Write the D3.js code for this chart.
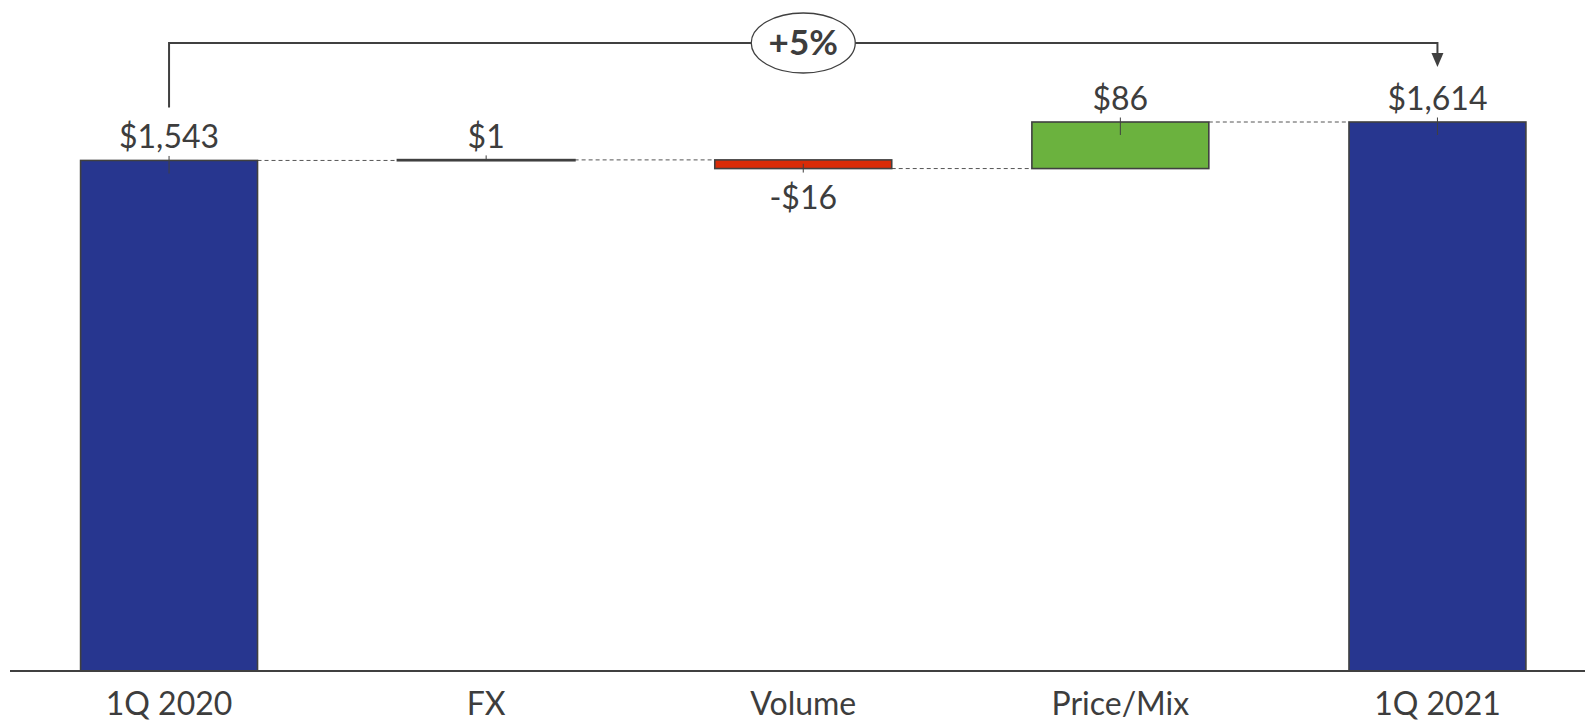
<!DOCTYPE html>
<html>
<head>
<meta charset="utf-8">
<script src="https://cdn.jsdelivr.net/npm/d3@7"></script>
<style>
  html, body { margin: 0; padding: 0; background: #fff; }
  svg { display: block; font-family: "Lato", "Open Sans", sans-serif; }
</style>
</head>
<body>
<div id="grafico"></div>
<script>
// Dati del waterfall
const categories = ["1Q 2020", "FX", "Volume", "Price/Mix", "1Q 2021"];
const values = [1543, 1, -16, 86, 1614];
const kinds = ["total", "delta", "delta", "delta", "total"];
const valueLabels = ["$1,543", "$1", "-$16", "$86", "$1,614"];
const changeLabel = "+5%";

const width = 1585;
const height = 726;
const textColor = "#3d3d3d";
const strokeColor = "#404040";
const colors = { total: "#27368f", up: "#6bb23e", down: "#d92b07" };

const svg = d3.select("#grafico")
    .append("svg")
    .attr("width", width)
    .attr("height", height);

// Calcolo inizio/fine di ogni barra
let running = 0;
const bars = categories.map((c, i) => {
    let start, end;
    if (kinds[i] === "total") {
        start = null;
        end = values[i];
    } else {
        start = running;
        end = running + values[i];
    }
    running = end;
    return { cat: c, value: values[i], kind: kinds[i], start, end, label: valueLabels[i] };
});

const x = d3.scaleBand()
    .domain(categories)
    .range([10.5, 1596])
    .paddingInner(0.442)
    .paddingOuter(0.221);

const y = d3.scaleLinear()
    .domain([600, d3.max(bars, d => d.end)])
    .range([671, 122]);

const baseY = y.range()[0];

// Linee tratteggiate di collegamento
bars.slice(0, -1).forEach((d, i) => {
    const next = bars[i + 1];
    svg.append("line")
        .attr("x1", x(d.cat) + x.bandwidth())
        .attr("x2", x(next.cat))
        .attr("y1", y(d.end))
        .attr("y2", y(d.end))
        .attr("stroke", "#555")
        .attr("stroke-width", 1)
        .attr("stroke-dasharray", "4,3");
});

// Barre
bars.forEach(d => {
    let top, bottom, fill;
    if (d.kind === "total") {
        top = y(d.end);
        bottom = baseY;
        fill = colors.total;
    } else {
        top = y(Math.max(d.start, d.end));
        bottom = y(Math.min(d.start, d.end));
        fill = d.value >= 0 ? colors.up : colors.down;
    }
    d.top = top;
    d.bottom = bottom;

    svg.append("rect")
        .attr("x", x(d.cat))
        .attr("y", top)
        .attr("width", x.bandwidth())
        .attr("height", Math.max(0.5, bottom - top))
        .attr("fill", fill)
        .attr("stroke", strokeColor)
        .attr("stroke-width", d.value === 1 ? 2.2 : 1.6);
});

// Asse orizzontale
svg.append("line")
    .attr("x1", 10)
    .attr("x2", width)
    .attr("y1", baseY)
    .attr("y2", baseY)
    .attr("stroke", strokeColor)
    .attr("stroke-width", 2);

// Etichette categorie
svg.selectAll(".catLabel")
    .data(categories)
    .enter()
    .append("text")
    .attr("class", "catLabel")
    .attr("x", d => x(d) + x.bandwidth() / 2)
    .attr("y", baseY + 44)
    .attr("text-anchor", "middle")
    .style("font-size", "32px")
    .style("fill", textColor)
    .text(d => d);

// Etichette valori con piccolo segno verticale
bars.forEach(d => {
    const cx = x(d.cat) + x.bandwidth() / 2;
    const neg = d.kind === "delta" && d.value < 0;
    const h = d.bottom - d.top;
    const inside = Math.min(13, h * 0.55);

    if (neg) {
        svg.append("line")
            .attr("x1", cx).attr("x2", cx)
            .attr("y1", d.bottom - inside)
            .attr("y2", d.bottom + 4)
            .attr("stroke", strokeColor)
            .attr("stroke-width", 1);
        svg.append("text")
            .attr("x", cx)
            .attr("y", d.bottom + 40)
            .attr("text-anchor", "middle")
            .style("font-size", "32px")
            .style("fill", textColor)
            .text(d.label);
    } else {
        svg.append("line")
            .attr("x1", cx).attr("x2", cx)
            .attr("y1", d.top - 4.5)
            .attr("y2", d.top + inside)
            .attr("stroke", strokeColor)
            .attr("stroke-width", 1);
        svg.append("text")
            .attr("x", cx)
            .attr("y", d.top - 12)
            .attr("text-anchor", "middle")
            .style("font-size", "32px")
            .style("fill", textColor)
            .text(d.label);
    }
});

// Parentesi con freccia e variazione percentuale
const first = bars[0];
const last = bars[bars.length - 1];
const bx1 = x(first.cat) + x.bandwidth() / 2;
const bx2 = x(last.cat) + x.bandwidth() / 2;
const bracketY = 43;

svg.append("path")
    .attr("d", `M${bx1},${first.top - 53} V${bracketY} H${bx2} V${last.top - 68}`)
    .attr("fill", "none")
    .attr("stroke", strokeColor)
    .attr("stroke-width", 2);

svg.append("path")
    .attr("d", `M${bx2 - 6},${last.top - 69} L${bx2 + 6},${last.top - 69} L${bx2},${last.top - 55} Z`)
    .attr("fill", strokeColor);

const ex = x(categories[2]) + x.bandwidth() / 2;
svg.append("ellipse")
    .attr("cx", ex)
    .attr("cy", bracketY)
    .attr("rx", 52)
    .attr("ry", 30)
    .attr("fill", "#fff")
    .attr("stroke", strokeColor)
    .attr("stroke-width", 1.3);

svg.append("text")
    .attr("x", ex)
    .attr("y", bracketY + 12)
    .attr("text-anchor", "middle")
    .style("font-size", "35px")
    .style("font-weight", "bold")
    .style("fill", textColor)
    .text(changeLabel);
</script>
</body>
</html>
